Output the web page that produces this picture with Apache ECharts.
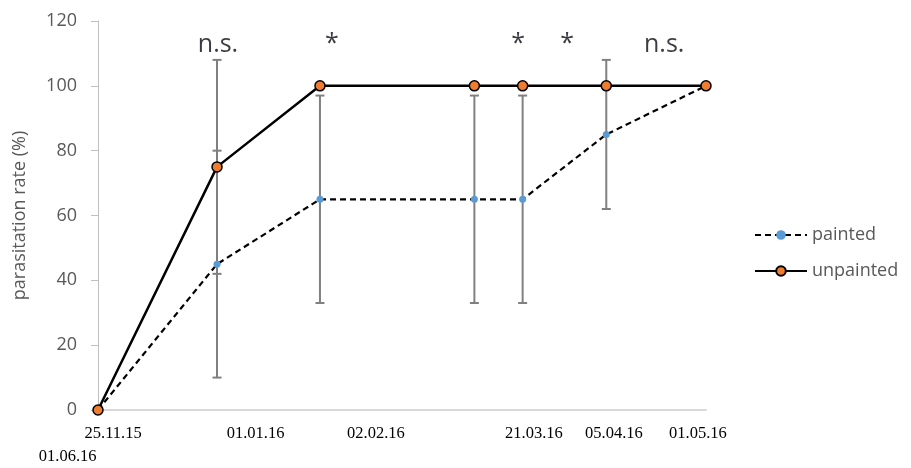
<!DOCTYPE html>
<html>
<head>
<meta charset="utf-8">
<script src="https://cdn.jsdelivr.net/npm/echarts@6/dist/echarts.min.js"></script>
<style>html,body{margin:0;padding:0;background:#fff}#c{width:911px;height:468px}</style>
</head>
<body>
<div id="c"></div>
<script>
// Sampling days (days since 25.11.15)
const days = [0, 37, 69, 117, 132, 158, 189];
const painted = [0, 45, 65, 65, 65, 85, 100];
const unpainted = [0, 75, 100, 100, 100, 100, 100];
// error bars: [day, low, high]
const paintedErr = [[37, 10, 80], [69, 33, 97], [117, 33, 97], [132, 33, 97], [158, 62, 108]];
const unpaintedErr = [[37, 42, 108]];
// x tick labels (as placed in the original figure, in day units)
const xLabelText = ['25.11.15', '01.01.16', '02.02.16', '21.03.16', '05.04.16', '01.05.16', '\n01.06.16'];
const xLabelPos = [4.7, 49.0, 86.4, 135.5, 160.4, 186.5, -9.4];
// significance annotations
const annotText = ['n.s.', '*', '*', '*', 'n.s.'];
const annotDay = [37.3, 72.7, 130.6, 145.8, 176];
const annotY = [112.5, 113, 113, 113, 112.5];

const chart = echarts.init(document.getElementById('c'));
const sans = 'Open Sans';
function errSeries(data) {
  return {
    type: 'custom', xAxisIndex: 0, yAxisIndex: 0, z: 1, silent: true,
    data: data,
    renderItem: function (params, api) {
      const x = api.value(0);
      const lo = api.coord([x, api.value(1)]);
      const hi = api.coord([x, api.value(2)]);
      const w = 4.5;
      const st = { stroke: '#808080', lineWidth: 2 };
      return { type: 'group', children: [
        { type: 'line', shape: { x1: lo[0], y1: lo[1], x2: hi[0], y2: hi[1] }, style: st },
        { type: 'line', shape: { x1: lo[0] - w, y1: lo[1], x2: lo[0] + w, y2: lo[1] }, style: st },
        { type: 'line', shape: { x1: hi[0] - w, y1: hi[1], x2: hi[0] + w, y2: hi[1] }, style: st }
      ]};
    }
  };
}
chart.setOption({
  animation: false,
  grid: [
    { left: 98, right: 205, top: 21, bottom: 58 },
    { left: 0, right: 205, top: 21, bottom: 58 }
  ],
  legend: {
    orient: 'vertical', left: 749, top: 221, itemWidth: 52, itemHeight: 12, itemGap: 18,
    textStyle: { fontFamily: sans, fontSize: 18, color: '#595959' },
    data: ['painted', 'unpainted']
  },
  xAxis: [
    { gridIndex: 0, type: 'value', min: 0, max: 189,
      axisLine: { show: true, lineStyle: { color: '#d9d9d9', width: 2 } },
      axisTick: { show: false }, axisLabel: { show: false }, splitLine: { show: false } },
    { gridIndex: 1, type: 'value', min: -30.46, max: 189,
      axisLine: { show: false }, axisTick: { show: false }, splitLine: { show: false },
      axisLabel: {
        customValues: xLabelPos,
        formatter: function (v) {
          let best = 0;
          for (let i = 0; i < xLabelPos.length; i++) if (Math.abs(xLabelPos[i] - v) < Math.abs(xLabelPos[best] - v)) best = i;
          return xLabelText[best];
        },
        margin: 24, fontFamily: 'Liberation Serif', fontSize: 16.5, color: '#000', lineHeight: 23
      } }
  ],
  yAxis: [
    { gridIndex: 0, type: 'value', min: 0, max: 120, interval: 20,
      name: 'parasitation rate (%)', nameLocation: 'middle', nameGap: 69,
      nameTextStyle: { fontFamily: sans, fontSize: 18, color: '#595959' },
      axisLine: { show: true, lineStyle: { color: '#bfbfbf', width: 1 } },
      axisTick: { show: true, length: 7, lineStyle: { color: '#bfbfbf' } },
      axisLabel: { margin: 21, fontFamily: sans, fontSize: 18, color: '#595959' },
      splitLine: { show: false } },
    { gridIndex: 1, type: 'value', min: 0, max: 120, show: false }
  ],
  series: [
    errSeries(paintedErr),
    errSeries(unpaintedErr),
    { name: 'painted', type: 'line', z: 3,
      data: days.map((d, i) => [d, painted[i]]),
      lineStyle: { color: '#000', width: 2.2, type: [6, 4] },
      symbol: 'circle', symbolSize: 7,
      itemStyle: { color: '#5b9bd5', borderWidth: 0 } },
    { name: 'unpainted', type: 'line', z: 4,
      data: days.map((d, i) => [d, unpainted[i]]),
      lineStyle: { color: '#000', width: 2.5 },
      symbol: 'circle', symbolSize: 10,
      itemStyle: { color: '#ed7d31', borderColor: '#000', borderWidth: 1.5 } },
    { type: 'scatter', z: 5, silent: true, symbolSize: 0,
      data: annotDay.map((d, i) => ({ value: [d, annotY[i]], name: annotText[i] })),
      label: { show: true, position: 'inside', formatter: '{b}', fontFamily: sans, fontSize: 25, color: '#0a0a14' } }
  ]
});
</script>
</body>
</html>
